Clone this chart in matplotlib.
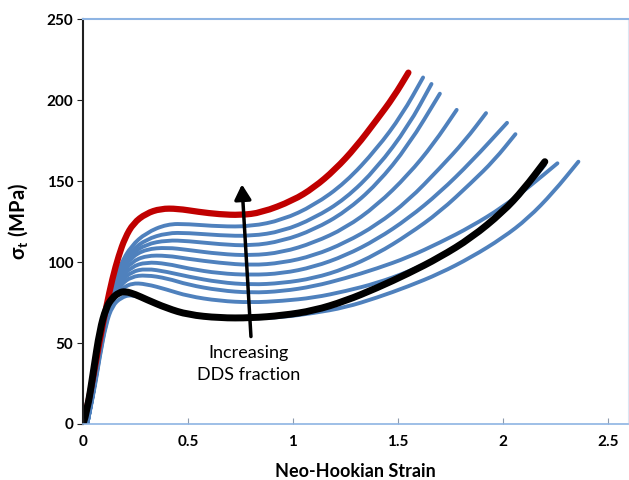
import matplotlib
matplotlib.use('Agg')
import matplotlib.pyplot as plt
from matplotlib.path import Path
from matplotlib.patches import PathPatch

plt.rcParams['font.family'] = ['Lato', 'DejaVu Sans']
plt.rcParams['mathtext.fontset'] = 'custom'
plt.rcParams['mathtext.bf'] = 'Lato:bold'
plt.rcParams['mathtext.rm'] = 'Lato:bold'

# neo-hookian strain / true stress (MPa)
red_x = [0, 0.02, 0.05, 0.08, 0.11, 0.14, 0.17, 0.2, 0.24, 0.3, 0.37, 0.45, 0.55, 0.65, 0.75, 0.85, 1.0, 1.1, 1.2, 1.3, 1.4, 1.48, 1.55]
red_y = [0, 10, 30, 52, 72, 90, 104, 115, 124, 130, 133, 133, 131, 129.5, 129, 130.5, 138, 146, 157, 171, 188, 202, 217]

black_x = [0, 0.02, 0.05, 0.08, 0.11, 0.14, 0.17, 0.2, 0.25, 0.3, 0.4, 0.5, 0.65, 0.8, 0.95, 1.1, 1.25, 1.4, 1.55, 1.7, 1.85, 2.0, 2.1, 2.2]
black_y = [0, 8, 33, 58, 72, 78, 81, 82, 80, 77, 71.5, 67.5, 65.5, 65.5, 67, 70, 76, 84, 93, 103, 115, 131, 145, 162]

blue_x = [
    [0.02, 0.05, 0.08, 0.11, 0.14, 0.18, 0.23, 0.3, 0.4, 0.5, 0.65, 0.8, 0.95, 1.1, 1.25, 1.4, 1.52, 1.62],
    [0.02, 0.05, 0.08, 0.11, 0.14, 0.18, 0.23, 0.3, 0.4, 0.5, 0.65, 0.8, 0.95, 1.1, 1.25, 1.4, 1.55, 1.66],
    [0.02, 0.05, 0.08, 0.11, 0.14, 0.18, 0.23, 0.3, 0.4, 0.5, 0.65, 0.8, 0.95, 1.1, 1.25, 1.4, 1.55, 1.7],
    [0.02, 0.05, 0.08, 0.11, 0.14, 0.18, 0.23, 0.3, 0.4, 0.5, 0.65, 0.8, 0.95, 1.1, 1.25, 1.4, 1.55, 1.67, 1.78],
    [0.02, 0.05, 0.08, 0.11, 0.14, 0.18, 0.23, 0.3, 0.4, 0.5, 0.65, 0.8, 0.95, 1.1, 1.25, 1.4, 1.55, 1.7, 1.82, 1.92],
    [0.02, 0.05, 0.08, 0.11, 0.14, 0.18, 0.23, 0.3, 0.4, 0.5, 0.65, 0.8, 0.95, 1.1, 1.25, 1.4, 1.55, 1.7, 1.85, 2.02],
    [0.02, 0.05, 0.08, 0.11, 0.14, 0.18, 0.23, 0.3, 0.4, 0.5, 0.65, 0.8, 0.95, 1.1, 1.25, 1.4, 1.55, 1.7, 1.85, 1.96, 2.06],
    [0.02, 0.05, 0.08, 0.11, 0.14, 0.18, 0.23, 0.3, 0.4, 0.5, 0.65, 0.8, 0.95, 1.1, 1.25, 1.4, 1.55, 1.7, 1.85, 2.0, 2.13, 2.26],
    [0.02, 0.05, 0.08, 0.11, 0.14, 0.18, 0.23, 0.3, 0.4, 0.5, 0.65, 0.8, 0.95, 1.1, 1.25, 1.4, 1.55, 1.7, 1.85, 2.0, 2.1, 2.2],
    [0.02, 0.05, 0.08, 0.11, 0.14, 0.18, 0.23, 0.3, 0.4, 0.5, 0.65, 0.8, 0.95, 1.1, 1.25, 1.4, 1.55, 1.7, 1.85, 2.0, 2.12, 2.24, 2.36],
]
blue_y = [
    [0, 20, 45, 67, 84, 99, 110, 118, 123.5, 123.5, 122, 122, 126, 135, 149, 170, 191, 214],
    [0, 20, 45, 67, 83, 97, 107, 114, 118, 118, 116.5, 116, 119, 127, 139, 158, 184, 210],
    [0, 20, 45, 67, 82, 96, 105, 111, 113.5, 113, 111, 110, 113, 120, 131, 148, 172, 204],
    [0, 20, 45, 66, 81, 94, 103, 108, 109, 107.5, 105, 104, 106, 112, 121, 135, 154, 173, 194],
    [0, 20, 45, 66, 80, 92, 100, 104, 104, 102, 99.5, 98, 99.5, 104, 112, 123, 138, 158, 175, 192],
    [0, 20, 45, 65, 79, 90, 97, 100, 99, 96, 93, 92, 93, 97, 104, 114, 127, 143, 162, 186],
    [0, 20, 45, 65, 78, 88, 94, 96, 94, 91, 87.5, 86, 87, 90, 96, 105, 117, 131, 149, 163, 179],
    [0, 20, 44, 64, 77, 86, 91, 92, 90, 86, 82.5, 81, 82, 85, 90, 96, 103, 112, 122, 134, 147, 161],
    [0, 19, 43, 63, 76, 83, 87, 86.5, 83, 79, 76, 75, 76, 78, 82, 87, 94, 103, 115, 130, 144, 160],
    [0, 18, 42, 62, 73, 78, 80, 77, 72, 68, 65.5, 65, 66, 68.5, 72, 78, 85, 93, 103, 115, 127, 143, 162],
]

xticks = [0, 0.5, 1, 1.5, 2, 2.5]
xtick_labels = ['0', '0.5', '1', '1.5', '2', '2.5']
yticks = [0, 50, 100, 150, 200, 250]


def smooth_line(ax, xs, ys, **kw):
    # quadratic bezier through the midpoints, so the read points give a smooth curve
    verts = [(xs[0], ys[0])]
    codes = [Path.MOVETO]
    for i in range(1, len(xs) - 1):
        verts += [(xs[i], ys[i]), ((xs[i] + xs[i + 1]) / 2, (ys[i] + ys[i + 1]) / 2)]
        codes += [Path.CURVE3, Path.CURVE3]
    verts.append((xs[-1], ys[-1]))
    codes.append(Path.LINETO)
    ax.add_patch(PathPatch(Path(verts, codes), fill=False, capstyle='round', joinstyle='round', **kw))


fig = plt.figure(figsize=(6.29, 4.8), dpi=100)
ax = fig.add_axes([0.132, 0.1167, 0.866, 0.8433])

for xs, ys in zip(blue_x, blue_y):
    smooth_line(ax, xs, ys, edgecolor='#4F81BD', lw=2.8)
smooth_line(ax, red_x, red_y, edgecolor='#C00000', lw=4.5)
smooth_line(ax, black_x, black_y, edgecolor='black', lw=5)

ax.annotate('', xy=(0.757, 148), xytext=(0.80, 54),
            arrowprops=dict(arrowstyle='-|>,head_length=0.9,head_width=0.5', lw=2.5, color='black', shrinkA=0, shrinkB=0))
ax.text(0.79, 37, 'Increasing\nDDS fraction', ha='center', va='center', fontsize=13, linespacing=1.4)

ax.set_xlim(0, 2.595)
ax.set_ylim(0, 250)
ax.set_xticks(xticks)
ax.set_xticklabels(xtick_labels)
ax.set_yticks(yticks)

for side in ['top', 'bottom', 'right']:
    ax.spines[side].set_color('#8EB4E3')
ax.spines['right'].set_color('#DCE6F2')
ax.spines['top'].set_linewidth(1.5)
ax.spines['bottom'].set_linewidth(1.2)
ax.spines['left'].set_color('#202020')
ax.spines['left'].set_linewidth(1.5)

ax.tick_params(axis='x', direction='in', length=4, color='#8E9BAE', pad=8)
ax.tick_params(axis='y', direction='out', length=4, color='#202020', pad=3)
for lab in ax.get_xticklabels() + ax.get_yticklabels():
    lab.set_fontweight('bold')
    lab.set_fontsize(11)

ax.set_xlabel('Neo-Hookian Strain', fontsize=13, fontweight='bold', labelpad=10)
ax.set_ylabel(r'σ$_\mathbf{t}$ (MPa)', fontsize=14.5, fontweight='bold', labelpad=12)

fig.savefig('out.png', dpi=100)
